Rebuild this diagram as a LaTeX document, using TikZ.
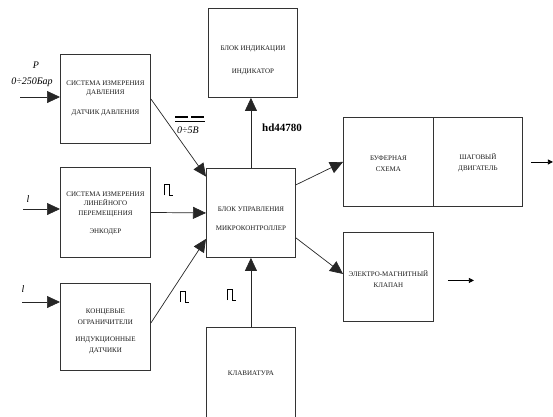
\documentclass[tikz,border=0pt]{standalone}
\usepackage{fontspec}
\setmainfont{Liberation Serif}
\usetikzlibrary{arrows.meta,calc}
\begin{document}
\begin{tikzpicture}[x=1pt,y=-1pt,
  blk/.style={draw=black!80,line width=0.9pt,inner sep=0pt,anchor=north west},
  txt/.style={inner sep=0pt,align=center,font=\fontsize{7}{10}\selectfont,text=black!90},
  big/.style={-{Triangle[length=13pt,width=12pt]},line width=0.7pt,draw=black!85},
  sm/.style={-{Triangle[length=5pt,width=5pt]},line width=0.8pt},
  lab/.style={font=\fontsize{10}{12}\selectfont\itshape,inner sep=0pt},
  pulse/.pic={\draw[line width=0.7pt] (0,0)--(0,-11)--(5,-11)--(5,0)--(9,0);}]
\useasboundingbox (0,0) rectangle (553,416);

\node[blk,minimum width=90pt,minimum height=89pt] (pres) at (60,54) {};
\node[txt,font=\fontsize{7}{9.5}\selectfont] (prest) at ([yshift=1pt]pres.center)
  {СИСТЕМА ИЗМЕРЕНИЯ\\ДАВЛЕНИЯ\\[10pt]ДАТЧИК ДАВЛЕНИЯ};
\node[blk,minimum width=90pt,minimum height=90pt] (enc) at (60,167) {};
\node[txt,font=\fontsize{7}{9.5}\selectfont] (enct) at ([yshift=-1pt]enc.center)
  {СИСТЕМА ИЗМЕРЕНИЯ\\ЛИНЕЙНОГО\\ПЕРЕМЕЩЕНИЯ\\[9pt]ЭНКОДЕР};
\node[blk,minimum width=90pt,minimum height=87pt] (lim) at (60,283) {};
\node[txt,font=\fontsize{7}{11}\selectfont] (limt) at ([yshift=-4pt]lim.center)
  {КОНЦЕВЫЕ\\ОГРАНИЧИТЕЛИ\\[6pt]ИНДУКЦИОННЫЕ\\ДАТЧИКИ};
\node[blk,minimum width=89pt,minimum height=89pt] (ind) at (208,8) {};
\node[txt] (indt) at ([yshift=-7pt]ind.center)
  {БЛОК ИНДИКАЦИИ\\[13pt]ИНДИКАТОР};
\node[blk,minimum width=89pt,minimum height=89pt] (ctrl) at (206,168) {};
\node[txt] (ctrlt) at ([yshift=-6pt]ctrl.center)
  {БЛОК УПРАВЛЕНИЯ\\[9pt]МИКРОКОНТРОЛЛЕР};
\node[blk,minimum width=90pt,minimum height=89pt] (buf) at (343,117) {};
\node[txt,font=\fontsize{7}{11}\selectfont] (buft) at ([yshift=-1.5pt]buf.center)
  {БУФЕРНАЯ\\СХЕМА};
\node[blk,minimum width=89pt,minimum height=89pt] (mot) at (433,117) {};
\node[txt,font=\fontsize{7}{10.5}\selectfont] (mott) at ([yshift=-1pt]mot.center)
  {ШАГОВЫЙ\\ДВИГАТЕЛЬ};
\node[blk,minimum width=90pt,minimum height=89pt] (valve) at (343,232) {};
\node[txt,font=\fontsize{7}{11}\selectfont] (valvet) at ([yshift=-2pt]valve.center)
  {ЭЛЕКТРО-МАГНИТНЫЙ\\КЛАПАН};
\node[blk,minimum width=89pt,minimum height=92pt] (kbd) at (206,327) {};
\node[txt] (kbdt) at (kbd.center) {КЛАВИАТУРА};

% inputs
\coordinate (pin) at (20,97);
\coordinate (ein) at (23,209);
\coordinate (lin) at (22,302);
\draw[big] (pin) -- (pin -| pres.west);
\draw[big] (ein) -- (ein -| enc.west);
\draw[big] (lin) -- (lin -| lim.west);
\node[lab] (plab) at (36,65) {P};
\node[lab] (prange) at (32,82) {0÷250Бар};
\node[lab] (elab) at (28,199) {l};
\node[lab] (llab) at (23,289) {l};

% to controller
\draw[big] (pres.east) -- (ctrl.141);
\draw[big] (enc.east) -- (ctrl.west);
\draw[big] ([yshift=4pt]lim.east) -- (ctrl.210);
\draw[big] (ctrl.north) -- (ctrl.north |- ind.south);
\draw[big] (kbd.north) -- (ctrl.south);
\draw[big] (ctrl.32) -- (buf.west);
\draw[big] (ctrl.-29) -- ([yshift=3pt]valve.west);

% outputs
\draw[sm] ([xshift=8pt]mot.east) -- ([xshift=30pt]mot.east);
\draw[sm] ([xshift=14pt,yshift=-3.5pt]valve.east) -- ([xshift=40pt,yshift=-3.5pt]valve.east);

% labels
\node[font=\fontsize{11}{13}\selectfont\bfseries,inner sep=0pt] (hd) at (282,128) {hd44780};
\draw[line width=1.2pt,dash pattern=on 13pt off 3pt] (175,117) -- (205,117);
\draw[line width=0.6pt] (175,121) -- (205,121);
\node[lab] (dc) at (188,130) {0÷5В};
\pic at (164,195) {pulse};
\pic at (180,302) {pulse};
\pic at (227,300) {pulse};
\end{tikzpicture}
\end{document}
